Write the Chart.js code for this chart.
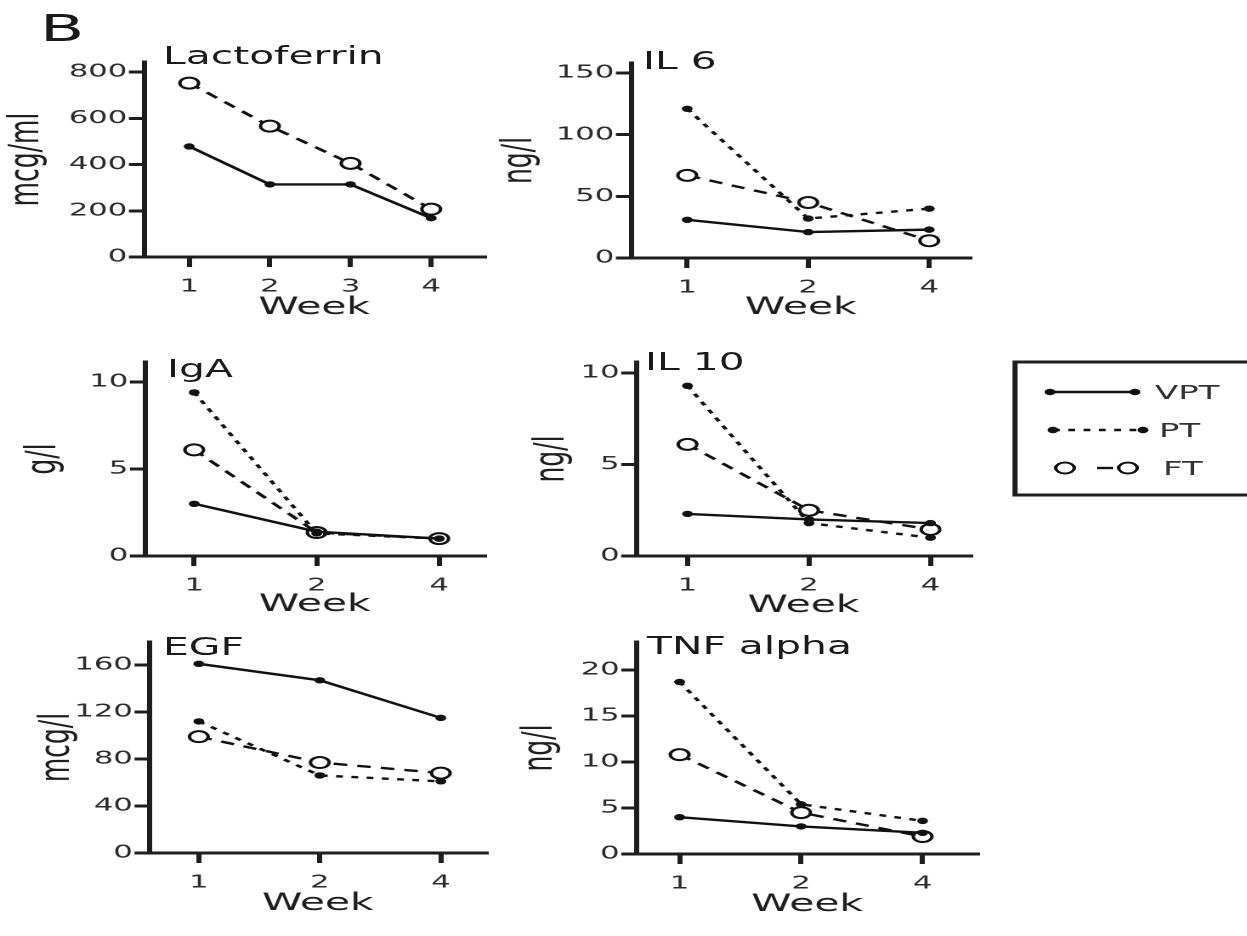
<!DOCTYPE html>
<html>
<head>
<meta charset="utf-8">
<script src="https://cdn.jsdelivr.net/npm/chart.js@4.4.1/dist/chart.umd.min.js"></script>
<style>
  html, body { margin: 0; padding: 0; background: #fff; width: 1247px; height: 936px; overflow: hidden; }
  #fig { position: absolute; left: 0; top: 0; height: 936px; transform-origin: 0 0;
         font-family: "DejaVu Sans", sans-serif; color: #1a1a1a; }
  #fig canvas { position: absolute; }
  .ttl { position: absolute; font-size: 24px; line-height: 24px; white-space: nowrap; color: #1a1a1a; }
  #letter { position: absolute; font-size: 38px; line-height: 38px; color: #1a1a1a; }
  #key { position: absolute; left: 0; top: 0; overflow: visible; }
</style>
</head>
<body>
<div id="fig">
  <div id="letter">B</div>
</div>
<script>
// Whole figure is drawn narrow and widened horizontally.
const STRETCH = 1.7;
const FONT = '"DejaVu Sans", sans-serif';

// ---- data ----
const weeksLacto = ['1', '2', '3', '4'];
const weeks = ['1', '2', '4'];

const lactoVPT = [478, 314, 314, 168];
const lactoFT  = [752, 566, 405, 207];
const lactoTicks = [0, 200, 400, 600, 800];

const il6VPT = [31, 21, 23];
const il6PT  = [121, 32, 40];
const il6FT  = [67, 45, 14];
const il6Ticks = [0, 50, 100, 150];

const igaVPT = [3.0, 1.4, 1.0];
const igaPT  = [9.4, 1.3, 1.0];
const igaFT  = [6.1, 1.35, 1.0];
const igaTicks = [0, 5, 10];

const il10VPT = [2.3, 2.0, 1.8];
const il10PT  = [9.3, 1.8, 1.0];
const il10FT  = [6.1, 2.5, 1.45];
const il10Ticks = [0, 5, 10];

const egfVPT = [161, 147, 115];
const egfPT  = [112, 66, 61];
const egfFT  = [99, 77, 68];
const egfTicks = [0, 40, 80, 120, 160];

const tnfVPT = [4.0, 3.0, 2.3];
const tnfPT  = [18.7, 5.4, 3.6];
const tnfFT  = [10.8, 4.5, 1.9];
const tnfTicks = [0, 5, 10, 15, 20];

const panels = [
  { key: 'lacto', title: 'Lactoferrin', unit: 'mcg/ml', weeks: weeksLacto, yTicks: lactoTicks,
    series: { VPT: lactoVPT, FT: lactoFT } },
  { key: 'il6', title: 'IL 6', unit: 'ng/l', weeks: weeks, yTicks: il6Ticks,
    series: { VPT: il6VPT, PT: il6PT, FT: il6FT } },
  { key: 'iga', title: 'IgA', unit: 'g/l', weeks: weeks, yTicks: igaTicks,
    series: { VPT: igaVPT, PT: igaPT, FT: igaFT } },
  { key: 'il10', title: 'IL 10', unit: 'ng/l', weeks: weeks, yTicks: il10Ticks,
    series: { VPT: il10VPT, PT: il10PT, FT: il10FT } },
  { key: 'egf', title: 'EGF', unit: 'mcg/l', weeks: weeks, yTicks: egfTicks,
    series: { VPT: egfVPT, PT: egfPT, FT: egfFT } },
  { key: 'tnf', title: 'TNF alpha', unit: 'ng/l', weeks: weeks, yTicks: tnfTicks,
    series: { VPT: tnfVPT, PT: tnfPT, FT: tnfFT } }
];

// ---- layout (page pixels after widening) ----
const layout = {
  lacto: { l: 145, r: 485, t: 62,  b: 257, firstTick: 190, lastTick: 432, topTickY: 72,  titleX: 163, titleTop: 47,  unitX: 28,  weekY: 308 },
  il6:   { l: 631, r: 970, t: 63,  b: 258, firstTick: 687, lastTick: 929, topTickY: 73,  titleX: 643, titleTop: 52,  unitX: 520, weekY: 308 },
  iga:   { l: 146, r: 485, t: 362, b: 556, firstTick: 195, lastTick: 440, topTickY: 382, titleX: 167, titleTop: 360, unitX: 45,  weekY: 605 },
  il10:  { l: 636, r: 970, t: 362, b: 556, firstTick: 687, lastTick: 930, topTickY: 373, titleX: 645, titleTop: 353, unitX: 552, weekY: 606 },
  egf:   { l: 149, r: 485, t: 642, b: 853, firstTick: 198, lastTick: 440, topTickY: 665, titleX: 163, titleTop: 638, unitX: 57,  weekY: 904 },
  tnf:   { l: 636, r: 977, t: 642, b: 854, firstTick: 679, lastTick: 922, topTickY: 670, titleX: 647, titleTop: 637, unitX: 540, weekY: 905 }
};

const seriesStyle = {
  VPT: { borderDash: [],     pointRadius: 3.2, pointBackgroundColor: '#111', pointBorderWidth: 0 },
  PT:  { borderDash: [4, 5], pointRadius: 3.2, pointBackgroundColor: '#111', pointBorderWidth: 0 },
  FT:  { borderDash: [8, 6], pointRadius: 5.5, pointBackgroundColor: '#fff', pointBorderWidth: 2 }
};

const INK = '#1e1e1e';
const TICK_INK = '#2b2b2b';
const fig = document.getElementById('fig');
fig.style.width = (1247 / STRETCH) + 'px';
fig.style.transform = 'scaleX(' + STRETCH + ')';

const letter = document.getElementById('letter');
letter.style.left = (40 / STRETCH) + 'px';
letter.style.top = (13 - 0.117 * 38) + 'px';

function buildPanel(p) {
  const L = layout[p.key];
  const n = p.weeks.length;
  const xUnit = (L.lastTick - L.firstTick) / (n - 1);
  const xMin = -(L.firstTick - L.l) / xUnit;
  const xMax = (n - 1) + (L.r - L.lastTick) / xUnit;
  const topVal = p.yTicks[p.yTicks.length - 1];
  const yUnit = (L.b - L.topTickY) / topVal;
  const yMax = (L.b - L.t) / yUnit;

  const unitFont = 25, unitLH = 1.2;
  const weekFont = 24, weekLH = 1.2;
  const cl = L.unitX / STRETCH - unitFont * unitLH / 2;
  const ct = L.t - 14;
  const cb = L.weekY + weekFont * weekLH / 2;
  const cr = L.r / STRETCH + 8;
  const W = Math.round(cr - cl);
  const H = Math.round(cb - ct);
  const yScaleW = L.l / STRETCH - cl;
  const plotW = (L.r - L.l) / STRETCH;
  const padTop = L.t - ct;
  const padRight = W - yScaleW - plotW;
  const xScaleH = H - padTop - (L.b - L.t);

  const canvas = document.createElement('canvas');
  canvas.width = W;
  canvas.height = H;
  canvas.style.left = cl + 'px';
  canvas.style.top = ct + 'px';
  fig.appendChild(canvas);

  const title = document.createElement('div');
  title.className = 'ttl';
  title.textContent = p.title;
  title.style.left = (L.titleX / STRETCH) + 'px';
  title.style.top = (L.titleTop - 2.8) + 'px';
  fig.appendChild(title);

  const datasets = Object.keys(p.series).map(name => Object.assign({
    label: name,
    data: p.series[name].map((v, i) => ({ x: i, y: v })),
    borderColor: '#111',
    borderWidth: 2.4,
    pointBorderColor: '#111',
    pointStyle: 'circle',
    tension: 0,
    fill: false,
    clip: false
  }, seriesStyle[name]));

  const axisGrid = len => ({ display: true, drawOnChartArea: false, drawTicks: true, tickLength: len, lineWidth: 3, color: INK });
  const axisBorder = { display: true, width: 3, color: INK };

  new Chart(canvas, {
    type: 'line',
    data: { datasets },
    options: {
      responsive: false,
      maintainAspectRatio: false,
      animation: false,
      devicePixelRatio: 2,
      events: [],
      layout: { padding: { top: padTop, right: padRight, left: 0, bottom: 0 } },
      plugins: { legend: { display: false }, tooltip: { enabled: false }, title: { display: false } },
      scales: {
        x: {
          type: 'linear', min: xMin, max: xMax,
          afterBuildTicks: s => { s.ticks = p.weeks.map((w, i) => ({ value: i })); },
          afterFit: s => { s.height = xScaleH; },
          ticks: { autoSkip: false, maxRotation: 0, padding: 9, color: TICK_INK,
                   font: { family: FONT, size: 18 }, callback: v => p.weeks[v] },
          grid: axisGrid(10),
          border: axisBorder,
          title: { display: true, text: 'Week', color: INK, padding: 0,
                   font: { family: FONT, size: weekFont, lineHeight: weekLH } }
        },
        y: {
          min: 0, max: yMax,
          afterBuildTicks: s => { s.ticks = p.yTicks.map(v => ({ value: v })); },
          afterFit: s => { s.width = yScaleW; },
          ticks: { padding: 1, color: TICK_INK, font: { family: FONT, size: 18 }, callback: v => String(v) },
          grid: axisGrid(9),
          border: axisBorder,
          title: { display: true, text: p.unit, color: INK, padding: 0,
                   font: { family: FONT, size: unitFont, lineHeight: unitLH } }
        }
      }
    }
  });
}

panels.forEach(buildPanel);

// ---- key box ----
(function drawKey() {
  const s = STRETCH;
  const X = v => (v / s).toFixed(2);
  const svg = `
  <svg id="key" width="${(1247 / s).toFixed(2)}" height="936" xmlns="http://www.w3.org/2000/svg">
    <rect x="${X(1015)}" y="362" width="200" height="133" fill="none" stroke="${INK}" stroke-width="3"/>
    <g stroke="#111" stroke-width="2.4" fill="#111">
      <line x1="${X(1050)}" y1="392" x2="${X(1135)}" y2="392"/>
      <circle cx="${X(1050)}" cy="392" r="3.2" stroke="none"/>
      <circle cx="${X(1135)}" cy="392" r="3.2" stroke="none"/>
      <line x1="${X(1053)}" y1="430" x2="${X(1143)}" y2="430" stroke-dasharray="4 5"/>
      <circle cx="${X(1053)}" cy="430" r="3.2" stroke="none"/>
      <circle cx="${X(1143)}" cy="430" r="3.2" stroke="none"/>
      <line x1="${X(1097)}" y1="468" x2="${X(1113)}" y2="468"/>
      <circle cx="${X(1065)}" cy="468" r="5.5" fill="#fff" stroke-width="2"/>
      <circle cx="${X(1128)}" cy="468" r="5.5" fill="#fff" stroke-width="2"/>
    </g>
    <g font-family='"DejaVu Sans", sans-serif' font-size="20" fill="#333" dominant-baseline="central">
      <text x="${X(1155)}" y="392">VPT</text>
      <text x="${X(1159)}" y="430">PT</text>
      <text x="${X(1163)}" y="468">FT</text>
    </g>
  </svg>`;
  fig.insertAdjacentHTML('beforeend', svg);
})();
</script>
</body>
</html>
